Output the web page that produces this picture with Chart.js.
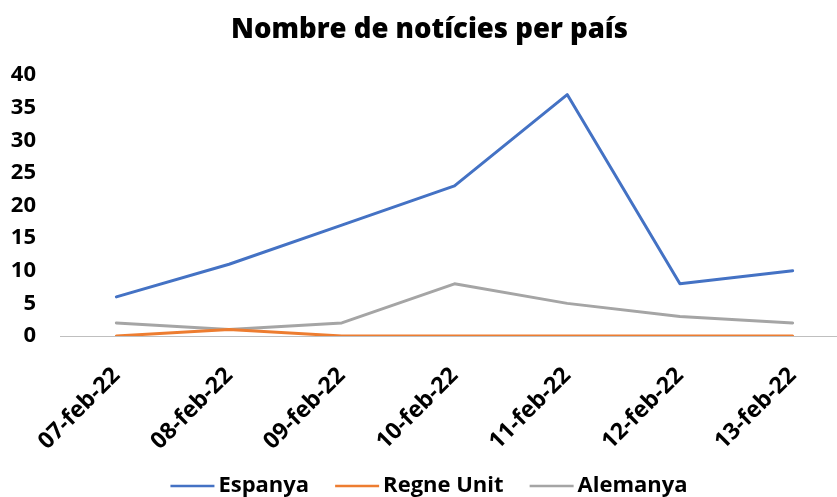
<!DOCTYPE html>
<html>
<head>
<meta charset="utf-8">
<script src="https://cdn.jsdelivr.net/npm/chart.js@4/dist/chart.umd.min.js"></script>
<style>
html,body{margin:0;padding:0;background:#fff;overflow:hidden;}
#wrap{width:837px;height:497px;position:relative;overflow:hidden;}
</style>
</head>
<body>
<div id="wrap"><canvas id="c" width="881" height="497"></canvas></div>
<script>
const categories = ["07-feb-22","08-feb-22","09-feb-22","10-feb-22","11-feb-22","12-feb-22","13-feb-22"];
const espanya = [6, 11, 17, 23, 37, 8, 10];
const regneUnit = [0, 1, 0, 0, 0, 0, 0];
const alemanya = [2, 1, 2, 8, 5, 3, 2];
const yTicks = [0, 5, 10, 15, 20, 25, 30, 35, 40];

const FONT = "'Open Sans', sans-serif";

// legend marker: a 44px line, shifted so it sits close to its label
function legendLine(color){
  const cv = document.createElement('canvas');
  cv.width = 100; cv.height = 4;
  const g = cv.getContext('2d');
  g.strokeStyle = color; g.lineWidth = 2.5;
  g.beginPath(); g.moveTo(31, 2); g.lineTo(75, 2); g.stroke();
  return cv;
}
function ds(label, data, color){
  return {label, data, borderColor: color, backgroundColor: color, borderWidth: 3,
    pointRadius: 0, pointHoverRadius: 0, tension: 0, fill: false,
    borderCapStyle: 'round', borderJoinStyle: 'round', _legendImg: legendLine(color)};
}
const zeroPad = () => ({left: 0, top: 0, right: 0, bottom: 0});
new Chart(document.getElementById('c'), {
  type: 'line',
  data: {
    labels: categories,
    datasets: [
      ds('Espanya', espanya, '#4472C4'),
      ds('Regne Unit', regneUnit, '#ED7D31'),
      ds('Alemanya', alemanya, '#A5A5A5')
    ]
  },
  options: {
    responsive: false,
    animation: false,
    layout: {padding: {left: 10, right: 32, top: 6, bottom: -10}},
    plugins: {
      title: {display: true, text: 'Nombre de notícies per país', color: '#000',
        font: {family: FONT, size: 27.5, weight: '800'}, padding: {top: 8, bottom: 28}},
      legend: {position: 'bottom', labels: {usePointStyle: true, pointStyleWidth: 36, boxHeight: 10,
        color: '#000', font: {family: FONT, size: 22, weight: '700'}, padding: 27,
        generateLabels: (chart) => Chart.defaults.plugins.legend.labels.generateLabels(chart).map((l, i) =>
          Object.assign(l, {pointStyle: chart.data.datasets[i]._legendImg, lineWidth: 0}))}},
      tooltip: {enabled: false}
    },
    scales: {
      x: {
        offset: true,
        grid: {display: false, drawTicks: false},
        border: {display: true, color: '#BFBFBF', width: 1},
        ticks: {color: '#000', font: {family: FONT, size: 23, weight: '700'}, minRotation: 45, maxRotation: 45, padding: 26},
        afterFit: (ax) => { ax.paddingLeft = 0; ax.paddingRight = 0; ax.getPadding = zeroPad; ax.height = 112; }
      },
      y: {
        min: 0, max: 40,
        afterBuildTicks: (ax) => { ax.ticks = yTicks.map(v => ({value: v})); },
        grid: {display: false, drawTicks: false},
        border: {display: false},
        ticks: {color: '#000', font: {family: FONT, size: 22, weight: '700'}, padding: 24},
        afterFit: (ax) => { ax.width = 50; }
      }
    }
  }
});
</script>
</body>
</html>
